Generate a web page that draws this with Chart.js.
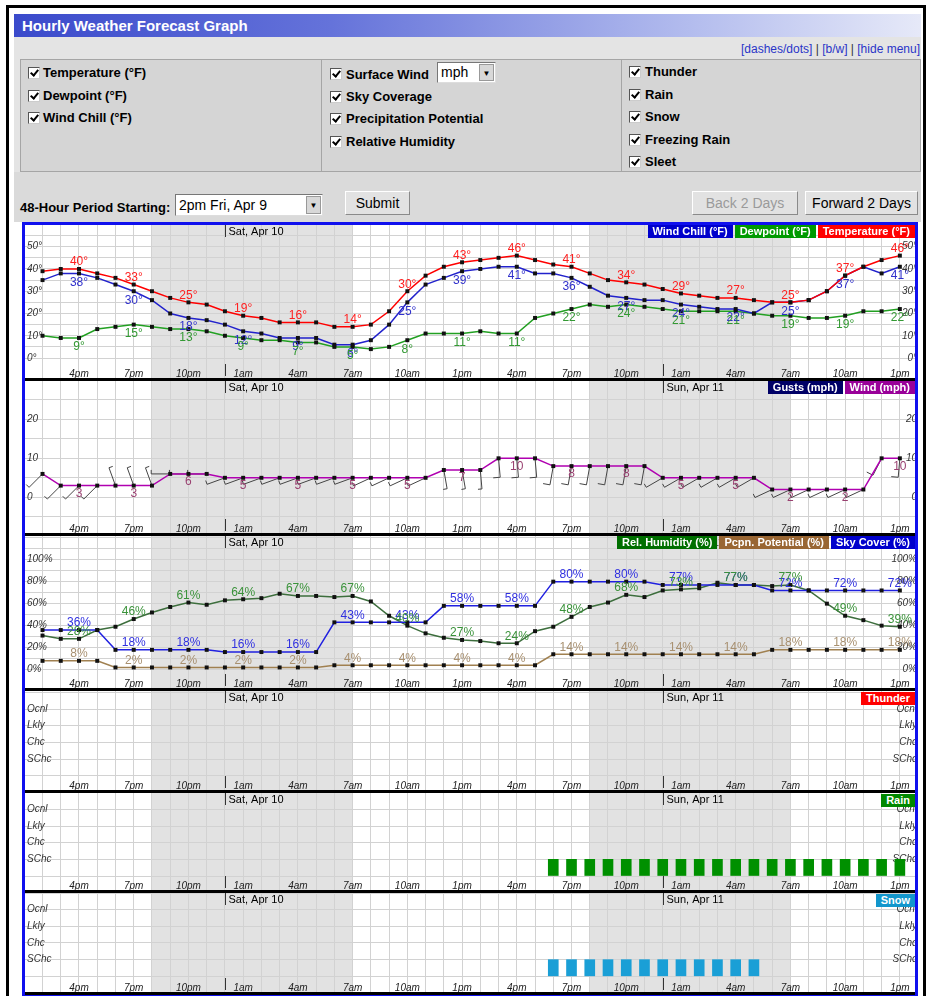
<!DOCTYPE html>
<html lang="en">
<head>
<meta charset="utf-8">
<title>Hourly Weather Forecast Graph</title>
<script src="https://cdn.jsdelivr.net/npm/chart.js@4.4.1/dist/chart.umd.min.js"></script>
<style>
    html, body { margin: 0; padding: 0; }
    body { width: 928px; height: 996px; overflow: hidden; background: #fff; position: relative;
           font-family: "Liberation Sans", Arial, sans-serif; color: #000; }
    .abs { position: absolute; }
    #frame { left: 6px; top: 5px; width: 920px; height: 996px; border: 3px solid #000; box-sizing: border-box; }
    #titlebar { left: 14px; top: 14px; width: 907px; height: 23px; line-height: 23px; padding-left: 8px; box-sizing: border-box;
                color: #fff; font-weight: bold; font-size: 15px;
                background: linear-gradient(to right, #3a4acb 0%, #6573da 35%, #b4bdee 75%, #e6e9f8 100%); }
    #toolbar { left: 14px; top: 37px; width: 907px; height: 185px; background: #e4e4e4; }
    #links { right: 8px; top: 42px; font-size: 12px; color: #333; }
    #links span { color: #2a35c8; }
    .cell { top: 59px; height: 113px; background: #d5d5d5; border: 1px solid #a5a5a5; box-sizing: border-box; }
    #bottomRow { left: 14px; top: 172px; width: 907px; height: 50px; background: #dadada; }
    .cb { position: absolute; width: 10px; height: 10px; background: #fff; border: 1px solid #555;
          border-right-color: #ccc; border-bottom-color: #ccc; }
    .cb::after { content: ''; position: absolute; left: 3px; top: 0px; width: 3px; height: 6px;
                 border: solid #000; border-width: 0 2px 2px 0; transform: rotate(40deg); }
    .mi { position: absolute; font-size: 13px; font-weight: bold; line-height: 16px; white-space: nowrap; }
    .sel { position: absolute; background: #fff; border: 1px solid #777; border-right-color: #ddd; border-bottom-color: #ddd;
           box-sizing: border-box; font-size: 14px; padding-left: 3px; white-space: nowrap; }
    .sel i { position: absolute; right: 1px; top: 1px; bottom: 1px; width: 15px; background: #d8d8d8; border: 1px solid #999;
             box-sizing: border-box; font-style: normal; font-size: 8px; text-align: center; line-height: 17px; color: #000; }
    .btn { position: absolute; background: #e2e2e2; border: 1px solid #8a8a8a; border-top-color: #fff; border-left-color: #fff;
           box-sizing: border-box; font-size: 14px; text-align: center; line-height: 22px; white-space: nowrap; }
    #chartBox { left: 22px; top: 222px; width: 896px; height: 776px; border: 3px solid #1010ee; box-sizing: border-box; }
    .sep { position: absolute; left: 25px; width: 890px; height: 3px; background: #000; }
    canvas.panel { position: absolute; left: 25px; }
    .lg { position: absolute; right: 13px; display: flex; }
    .lg span { color: #fff; font-size: 11px; font-weight: bold; height: 13px; line-height: 13px; padding: 0 5px; margin-left: 2px; white-space: nowrap; }
</style>
</head>
<body>

<div id="frame" class="abs"></div>
<div id="titlebar" class="abs">Hourly Weather Forecast Graph</div>
<div id="toolbar" class="abs"></div>
<div id="links" class="abs"><span>[dashes/dots]</span> | <span>[b/w]</span> | <span>[hide menu]</span></div>

<!-- Menu -->
<div class="cell abs" style="left:20px; width:302px;"></div>
<div class="cell abs" style="left:321px; width:301px;"></div>
<div class="cell abs" style="left:621px; width:300px;"></div>

<div class="cb" style="left:28px; top:67px;"></div><div class="mi" style="left:43px; top:65px;">Temperature (°F)</div>
<div class="cb" style="left:28px; top:90px;"></div><div class="mi" style="left:43px; top:88px;">Dewpoint (°F)</div>
<div class="cb" style="left:28px; top:112px;"></div><div class="mi" style="left:43px; top:110px;">Wind Chill (°F)</div>

<div class="cb" style="left:330px; top:68px;"></div><div class="mi" style="left:346px; top:67px;">Surface Wind</div>
<div class="sel" style="left:437px; top:62px; width:59px; height:21px; line-height:19px;">mph<i>▼</i></div>
<div class="cb" style="left:330px; top:91px;"></div><div class="mi" style="left:346px; top:89px;">Sky Coverage</div>
<div class="cb" style="left:330px; top:113px;"></div><div class="mi" style="left:346px; top:111px;">Precipitation Potential</div>
<div class="cb" style="left:330px; top:136px;"></div><div class="mi" style="left:346px; top:134px;">Relative Humidity</div>

<div class="cb" style="left:629px; top:66px;"></div><div class="mi" style="left:645px; top:64px;">Thunder</div>
<div class="cb" style="left:629px; top:89px;"></div><div class="mi" style="left:645px; top:87px;">Rain</div>
<div class="cb" style="left:629px; top:111px;"></div><div class="mi" style="left:645px; top:109px;">Snow</div>
<div class="cb" style="left:629px; top:134px;"></div><div class="mi" style="left:645px; top:132px;">Freezing Rain</div>
<div class="cb" style="left:629px; top:156px;"></div><div class="mi" style="left:645px; top:154px;">Sleet</div>

<div id="bottomRow" class="abs"></div>
<div class="mi" style="left:20px; top:200px;">48-Hour Period Starting:</div>
<div class="sel" style="left:175px; top:194px; width:148px; height:22px; line-height:20px;">2pm Fri, Apr 9<i>▼</i></div>
<div class="btn" style="left:345px; top:191px; width:65px; height:24px;">Submit</div>
<div class="btn" style="left:692px; top:191px; width:106px; height:24px; color:#9a9a9a;">Back 2 Days</div>
<div class="btn" style="left:805px; top:191px; width:113px; height:24px;">Forward 2 Days</div>

<!-- Graph -->
<div id="chartBox" class="abs"></div>
<canvas id="tempChart" class="panel" width="890" height="153" style="top:225px;"></canvas>
<div class="sep" style="top:378px;"></div>
<canvas id="windChart" class="panel" width="890" height="152" style="top:381px;"></canvas>
<div class="sep" style="top:533px;"></div>
<canvas id="humidChart" class="panel" width="890" height="152" style="top:536px;"></canvas>
<div class="sep" style="top:688px;"></div>
<canvas id="thunderChart" class="panel" width="890" height="99" style="top:691px;"></canvas>
<div class="sep" style="top:790px;"></div>
<canvas id="rainChart" class="panel" width="890" height="97" style="top:793px;"></canvas>
<div class="sep" style="top:890px;"></div>
<canvas id="snowChart" class="panel" width="890" height="99" style="top:893px;"></canvas>
<div class="sep" style="top:992px;"></div>

<div class="lg" style="top:225px;"><span style="background:#0000cc;">Wind Chill (°F)</span><span style="background:#009a00;">Dewpoint (°F)</span><span style="background:#ff0000;">Temperature (°F)</span></div>
<div class="lg" style="top:381px;"><span style="background:#000066;">Gusts (mph)</span><span style="background:#990099;">Wind (mph)</span></div>
<div class="lg" style="top:536px;"><span style="background:#006f00;">Rel. Humidity (%)</span><span style="background:#996633;">Pcpn. Potential (%)</span><span style="background:#0000cc;">Sky Cover (%)</span></div>
<div class="lg" style="top:692px;"><span style="background:#ff0000;">Thunder</span></div>
<div class="lg" style="top:794px;"><span style="background:#008800;">Rain</span></div>
<div class="lg" style="top:894px;"><span style="background:#1296cc;">Snow</span></div>

<script>
// Hourly forecast, 2pm Fri Apr 9 -> 1pm Sun Apr 11
const hourLabels = ['2pm', '3pm', '4pm', '5pm', '6pm', '7pm', '8pm', '9pm', '10pm', '11pm', '12am', '1am',
    '2am', '3am', '4am', '5am', '6am', '7am', '8am', '9am', '10am', '11am', '12pm', '1pm',
    '2pm', '3pm', '4pm', '5pm', '6pm', '7pm', '8pm', '9pm', '10pm', '11pm', '12am', '1am',
    '2am', '3am', '4am', '5am', '6am', '7am', '8am', '9am', '10am', '11am', '12pm', '1pm'];

const temperature = [39, 40, 40, 38, 36, 33, 30, 27, 25, 24, 21, 19, 18, 16, 16, 16, 14, 14, 15, 21, 30, 37, 41, 43,
    44, 45, 46, 44, 42, 41, 38, 35, 34, 33, 31, 29, 28, 27, 27, 26, 25, 25, 26, 30, 37, 41, 44, 46];
const windChill = [35, 38, 38, 36, 33, 30, 26, 20, 18, 17, 15, 12, 11, 9, 9, 9, 6, 6, 8, 15, 25, 33, 36, 39,
    40, 41, 41, 38, 38, 36, 32, 28, 27, 26, 26, 24, 23, 22, 22, 20, 25, 25, 26, 30, 37, 41, 38, 41];
const dewpoint = [10, 9, 9, 13, 14, 15, 14, 13, 13, 12, 10, 9, 8, 8, 7, 7, 5, 5, 4, 5, 8, 11, 11, 11,
    12, 11, 11, 18, 20, 22, 24, 23, 24, 23, 22, 21, 21, 21, 21, 20, 19, 19, 18, 18, 19, 21, 21, 22];

const windSpeed = [6, 3, 3, 3, 3, 3, 3, 6, 6, 6, 5, 5, 5, 5, 5, 5, 5, 5, 5, 5, 5, 5, 7, 7,
    7, 10, 10, 10, 8, 8, 8, 8, 8, 8, 5, 5, 5, 5, 5, 5, 2, 2, 2, 2, 2, 2, 10, 10];
// direction the wind blows from, degrees
const windDir = [225, 225, 225, 225, 340, 340, 340, 270, 270, 270, 250, 250, 250, 250, 250, 250, 250, 250, 245, 245, 245, 245, 170, 170,
    175, 175, 175, 175, 190, 190, 190, 190, 190, 190, 240, 240, 240, 240, 240, 240, 245, 245, 245, 245, 245, 245, 207, 185];

const skyCover = [36, 36, 36, 36, 18, 18, 18, 18, 18, 18, 16, 16, 16, 16, 16, 16, 43, 43, 43, 43, 43, 43, 58, 58,
    58, 58, 58, 58, 80, 80, 80, 80, 80, 80, 77, 77, 77, 77, 77, 77, 72, 72, 72, 72, 72, 72, 72, 72];
const relHumidity = [31, 28, 28, 36, 39, 46, 52, 57, 61, 59, 63, 64, 65, 69, 67, 67, 66, 67, 62, 49, 40, 33, 29, 27,
    26, 24, 24, 35, 39, 48, 57, 61, 68, 66, 72, 73, 74, 79, 77, 77, 76, 77, 72, 60, 49, 45, 40, 39];
const precipPotential = [8, 8, 8, 8, 2, 2, 2, 2, 2, 2, 2, 2, 2, 2, 2, 2, 4, 4, 4, 4, 4, 4, 4, 4,
    4, 4, 4, 4, 14, 14, 14, 14, 14, 14, 14, 14, 14, 14, 14, 14, 18, 18, 18, 18, 18, 18, 18, 18];

// 0 none, 1 SChc, 2 Chc, 3 Lkly, 4 Ocnl
const precipLevels = ['', 'SChc', 'Chc', 'Lkly', 'Ocnl'];
const thunder = [0, 0, 0, 0, 0, 0, 0, 0, 0, 0, 0, 0, 0, 0, 0, 0, 0, 0, 0, 0, 0, 0, 0, 0,
    0, 0, 0, 0, 0, 0, 0, 0, 0, 0, 0, 0, 0, 0, 0, 0, 0, 0, 0, 0, 0, 0, 0, 0];
const rain = [0, 0, 0, 0, 0, 0, 0, 0, 0, 0, 0, 0, 0, 0, 0, 0, 0, 0, 0, 0, 0, 0, 0, 0,
    0, 0, 0, 0, 1, 1, 1, 1, 1, 1, 1, 1, 1, 1, 1, 1, 1, 1, 1, 1, 1, 1, 1, 1];
const snow = [0, 0, 0, 0, 0, 0, 0, 0, 0, 0, 0, 0, 0, 0, 0, 0, 0, 0, 0, 0, 0, 0, 0, 0,
    0, 0, 0, 0, 1, 1, 1, 1, 1, 1, 1, 1, 1, 1, 1, 1, 0, 0, 0, 0, 0, 0, 0, 0];

// night hours (shaded) and day boundaries
const nightStart = [6, 30];
const nightEnd = [17, 41];
const dayBreaks = [10, 34];
const dayLabels = ['Sat, Apr 10', 'Sun, Apr 11'];

const FONT = '"Liberation Sans", Arial, sans-serif';
const GRID = '#d2d2d2';
const X_MIN = -0.96;
const X_MAX = 47.83;

function xy(arr) {
    return arr.map((v, i) => ({ x: i, y: v }));
}

function bars(arr) {
    return arr.map((v, i) => (v ? { x: i, y: v } : null)).filter(Boolean);
}

// Night shading + date markers
const dayNight = {
    id: 'dayNight',
    beforeDraw(chart) {
        const { ctx, scales: { x }, height } = chart;
        ctx.save();
        ctx.fillStyle = 'rgba(190,190,190,0.45)';
        nightStart.forEach((s, k) => {
            const x1 = x.getPixelForValue(s);
            const x2 = x.getPixelForValue(nightEnd[k]);
            ctx.fillRect(x1, 0, x2 - x1, height);
        });
        ctx.restore();
    },
    afterDraw(chart) {
        const { ctx, scales: { x }, height } = chart;
        ctx.save();
        ctx.strokeStyle = '#333';
        ctx.lineWidth = 1;
        ctx.fillStyle = '#000';
        ctx.font = '11px ' + FONT;
        ctx.textBaseline = 'middle';
        dayBreaks.forEach((h, k) => {
            const px = Math.round(x.getPixelForValue(h)) + 0.5;
            ctx.beginPath();
            ctx.moveTo(px, 0); ctx.lineTo(px, 12);
            ctx.moveTo(px, height - 14); ctx.lineTo(px, height - 2);
            ctx.stroke();
            ctx.fillText(dayLabels[k], px + 3, 7);
        });
        ctx.restore();
    }
};

// Values written every 3 hours next to the points
const valueLabels = {
    id: 'valueLabels',
    afterDatasetsDraw(chart) {
        const ctx = chart.ctx;
        chart.data.datasets.forEach((ds, di) => {
            if (!ds.valueLabel) return;
            const meta = chart.getDatasetMeta(di);
            ctx.save();
            ctx.font = '12px ' + FONT;
            ctx.fillStyle = ds.valueLabel.color;
            ctx.textAlign = 'center';
            ctx.textBaseline = 'middle';
            meta.data.forEach((pt, i) => {
                if (i % 3 !== 2) return;
                ctx.fillText(ds.data[i].y + ds.valueLabel.suffix, pt.x, pt.y + ds.valueLabel.dy);
            });
            ctx.restore();
        });
    }
};

// Wind barbs hanging from the wind points
const windBarbs = {
    id: 'windBarbs',
    beforeDatasetsDraw(chart) {
        const ds = chart.data.datasets[0];
        if (!ds.barbDirs) return;
        const ctx = chart.ctx;
        const meta = chart.getDatasetMeta(0);
        ctx.save();
        ctx.strokeStyle = '#444';
        ctx.lineWidth = 1;
        meta.data.forEach((pt, i) => {
            const a = ds.barbDirs[i] * Math.PI / 180;
            const sx = Math.sin(a), sy = -Math.cos(a);
            const ex = pt.x + sx * 19, ey = pt.y + sy * 19;
            const t = windSpeed[i] >= 8 ? 7 : 4;
            ctx.beginPath();
            ctx.moveTo(pt.x, pt.y);
            ctx.lineTo(ex, ey);
            ctx.lineTo(ex - sy * t, ey + sx * t);
            ctx.stroke();
        });
        ctx.restore();
    }
};

function hourAxis() {
    return {
        type: 'linear', min: X_MIN, max: X_MAX, offset: false,
        afterFit: s => { s.height = 14; s.paddingLeft = 0; s.paddingRight = 0; },
        grid: { color: GRID, tickLength: 14, offset: false },
        border: { display: false },
        ticks: {
            stepSize: 1, autoSkip: false, includeBounds: false, maxRotation: 0, padding: -10,
            color: '#222', font: { family: FONT, size: 10, style: 'italic' },
            callback: v => (v % 3 === 2 ? hourLabels[v] : '')
        }
    };
}

function valueAxis(pos, min, max, step, fmt) {
    return {
        type: 'linear', position: pos, min: min, max: max,
        afterFit: s => { s.width = 0; s.paddingTop = 0; s.paddingBottom = 0; },
        grid: { display: pos === 'left', color: GRID, drawTicks: false },
        border: { display: false },
        ticks: {
            mirror: true, padding: 2, stepSize: step, autoSkip: false, includeBounds: false,
            color: '#333', font: { family: FONT, size: 10, style: 'italic' },
            callback: fmt
        }
    };
}

function lineSet(label, arr, color, labelColor, dy, suffix) {
    return {
        type: 'line', label: label, data: xy(arr),
        borderColor: color, borderWidth: 1.5, tension: 0,
        pointStyle: 'rect', pointRadius: 2.8, pointBackgroundColor: '#111', pointBorderWidth: 0,
        valueLabel: { color: labelColor, dy: dy, suffix: suffix }
    };
}

function barSet(label, arr, color) {
    return { type: 'bar', label: label, data: bars(arr), backgroundColor: color, barThickness: 10, borderWidth: 0 };
}

function makeChart(id, type, datasets, yMin, yMax, yStep, yFmt, extra) {
    return new Chart(document.getElementById(id), {
        type: type,
        data: { datasets: datasets },
        options: {
            responsive: false, animation: false, events: [],
            layout: { padding: 0, autoPadding: false },
            plugins: { legend: { display: false }, tooltip: { enabled: false } },
            scales: {
                x: hourAxis(),
                y: valueAxis('left', yMin, yMax, yStep, yFmt),
                y2: valueAxis('right', yMin, yMax, yStep, yFmt)
            }
        },
        plugins: [dayNight, valueLabels].concat(extra || [])
    });
}

const degFmt = v => (v % 10 === 0 ? v + '°' : '');
const mphFmt = v => (v % 10 === 0 ? String(v) : '');
const pctFmt = v => (v % 20 === 0 && v <= 100 ? v + '%' : '');
const lvlFmt = v => precipLevels[v] || '';

// Temperature panel
makeChart('tempChart', 'line', [
    lineSet('Temperature (°F)', temperature, '#ff0000', '#ff2020', -7, '°'),
    lineSet('Wind Chill (°F)', windChill, '#2222cc', '#3030cc', 9, '°'),
    lineSet('Dewpoint (°F)', dewpoint, '#22a022', '#339933', 9, '°')
], -2.69, 59.75, 5, degFmt);

// Wind panel
const windSet = lineSet('Wind (mph)', windSpeed, '#b000b0', '#994070', 8, '');
windSet.barbDirs = windDir;
makeChart('windChart', 'line', [windSet], -5.56, 29.82, 5, mphFmt, [windBarbs]);

// Humidity / sky / precipitation potential panel
makeChart('humidChart', 'line', [
    lineSet('Sky Cover (%)', skyCover, '#2020e0', '#3030e0', -7, '%'),
    lineSet('Rel. Humidity (%)', relHumidity, '#3d6e3d', '#3a923a', -7, '%'),
    lineSet('Pcpn. Potential (%)', precipPotential, '#a08050', '#a89070', -7, '%')
], -3.95, 121.5, 10, pctFmt);

// Thunder / Rain / Snow panels
makeChart('thunderChart', 'bar', [barSet('Thunder', thunder, '#ff0000')], -0.02, 5.08, 1, lvlFmt);
makeChart('rainChart', 'bar', [barSet('Rain', rain, '#009000')], 0, 4.98, 1, lvlFmt);
makeChart('snowChart', 'bar', [barSet('Snow', snow, '#1a9fd6')], -0.1, 5.0, 1, lvlFmt);
</script>
</body>
</html>
